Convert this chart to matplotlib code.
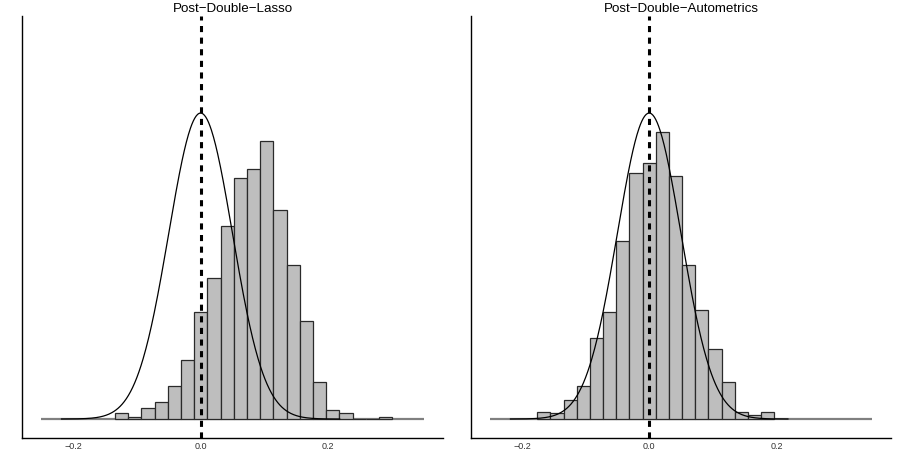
import matplotlib
matplotlib.use("Agg")
import matplotlib.pyplot as plt
import numpy as np

plt.rcParams['font.family'] = ['Liberation Sans', 'DejaVu Sans']

# simulation counts per bin (1000 replications)
n_sims = 1000
bin_width = 0.0207

lasso_first_center = -0.124
lasso_counts = [3, 1, 6, 9, 18, 32, 58, 76, 104, 130, 135, 150, 113, 83, 53, 20, 5, 3, 0, 0, 1]

autometrics_first_center = -0.1656
autometrics_counts = [4, 3, 10, 18, 44, 58, 96, 133, 138, 155, 131, 83, 59, 38, 20, 4, 2, 4]

titles = ["Post\u2212Double\u2212Lasso", "Post\u2212Double\u2212Autometrics"]
true_value = 0.0
normal_sd = 0.05
xticks = [-0.2, 0.0, 0.2]
xticklabels = ["\u22120.2", "0.0", "0.2"]

fig = plt.figure(figsize=(8.97, 4.64), dpi=100)

panels = [
    (22, 421, lasso_first_center, lasso_counts, titles[0]),
    (471, 420, autometrics_first_center, autometrics_counts, titles[1]),
]

for left_px, width_px, first, counts, title in panels:
    ax = fig.add_axes([left_px / 897, 1 - 439 / 464, width_px / 897, 422 / 464])
    counts = np.array(counts)
    centers = first + bin_width * np.arange(len(counts))
    dens = counts / (n_sims * bin_width)
    ax.bar(centers, dens, width=bin_width, color='#bebebe', edgecolor='#2a2a2a', linewidth=0.9, zorder=2)
    ax.plot([-0.25, 0.35], [0, 0], color='#808080', lw=1.6, zorder=1.5, solid_capstyle='butt')
    xs = np.linspace(-0.218, 0.218, 400)
    ys = np.exp(-0.5 * ((xs - true_value) / normal_sd) ** 2) / (np.sqrt(2 * np.pi) * normal_sd)
    ax.plot(xs, ys, color='black', lw=0.9, zorder=3)
    ax.axvline(true_value, color='black', lw=2.2, linestyle=(0, (2.0, 1.8)), dash_capstyle='butt', zorder=4)
    ax.set_xlim(-0.28, 0.38)
    ax.set_ylim(-0.495, 10.51)
    ax.set_xticks(xticks)
    ax.set_xticklabels(xticklabels)
    ax.set_yticks([])
    ax.tick_params(axis='x', length=0, pad=2.5, labelsize=6.5, colors='#333333')
    for s in ['top', 'right']:
        ax.spines[s].set_visible(False)
    for s in ['left', 'bottom']:
        ax.spines[s].set_linewidth(1.0)
    fig.text((left_px + width_px / 2) / 897, 1 - 8.5 / 464, title, ha='center', va='center', fontsize=9.6)

fig.savefig("out.png", dpi=100)
